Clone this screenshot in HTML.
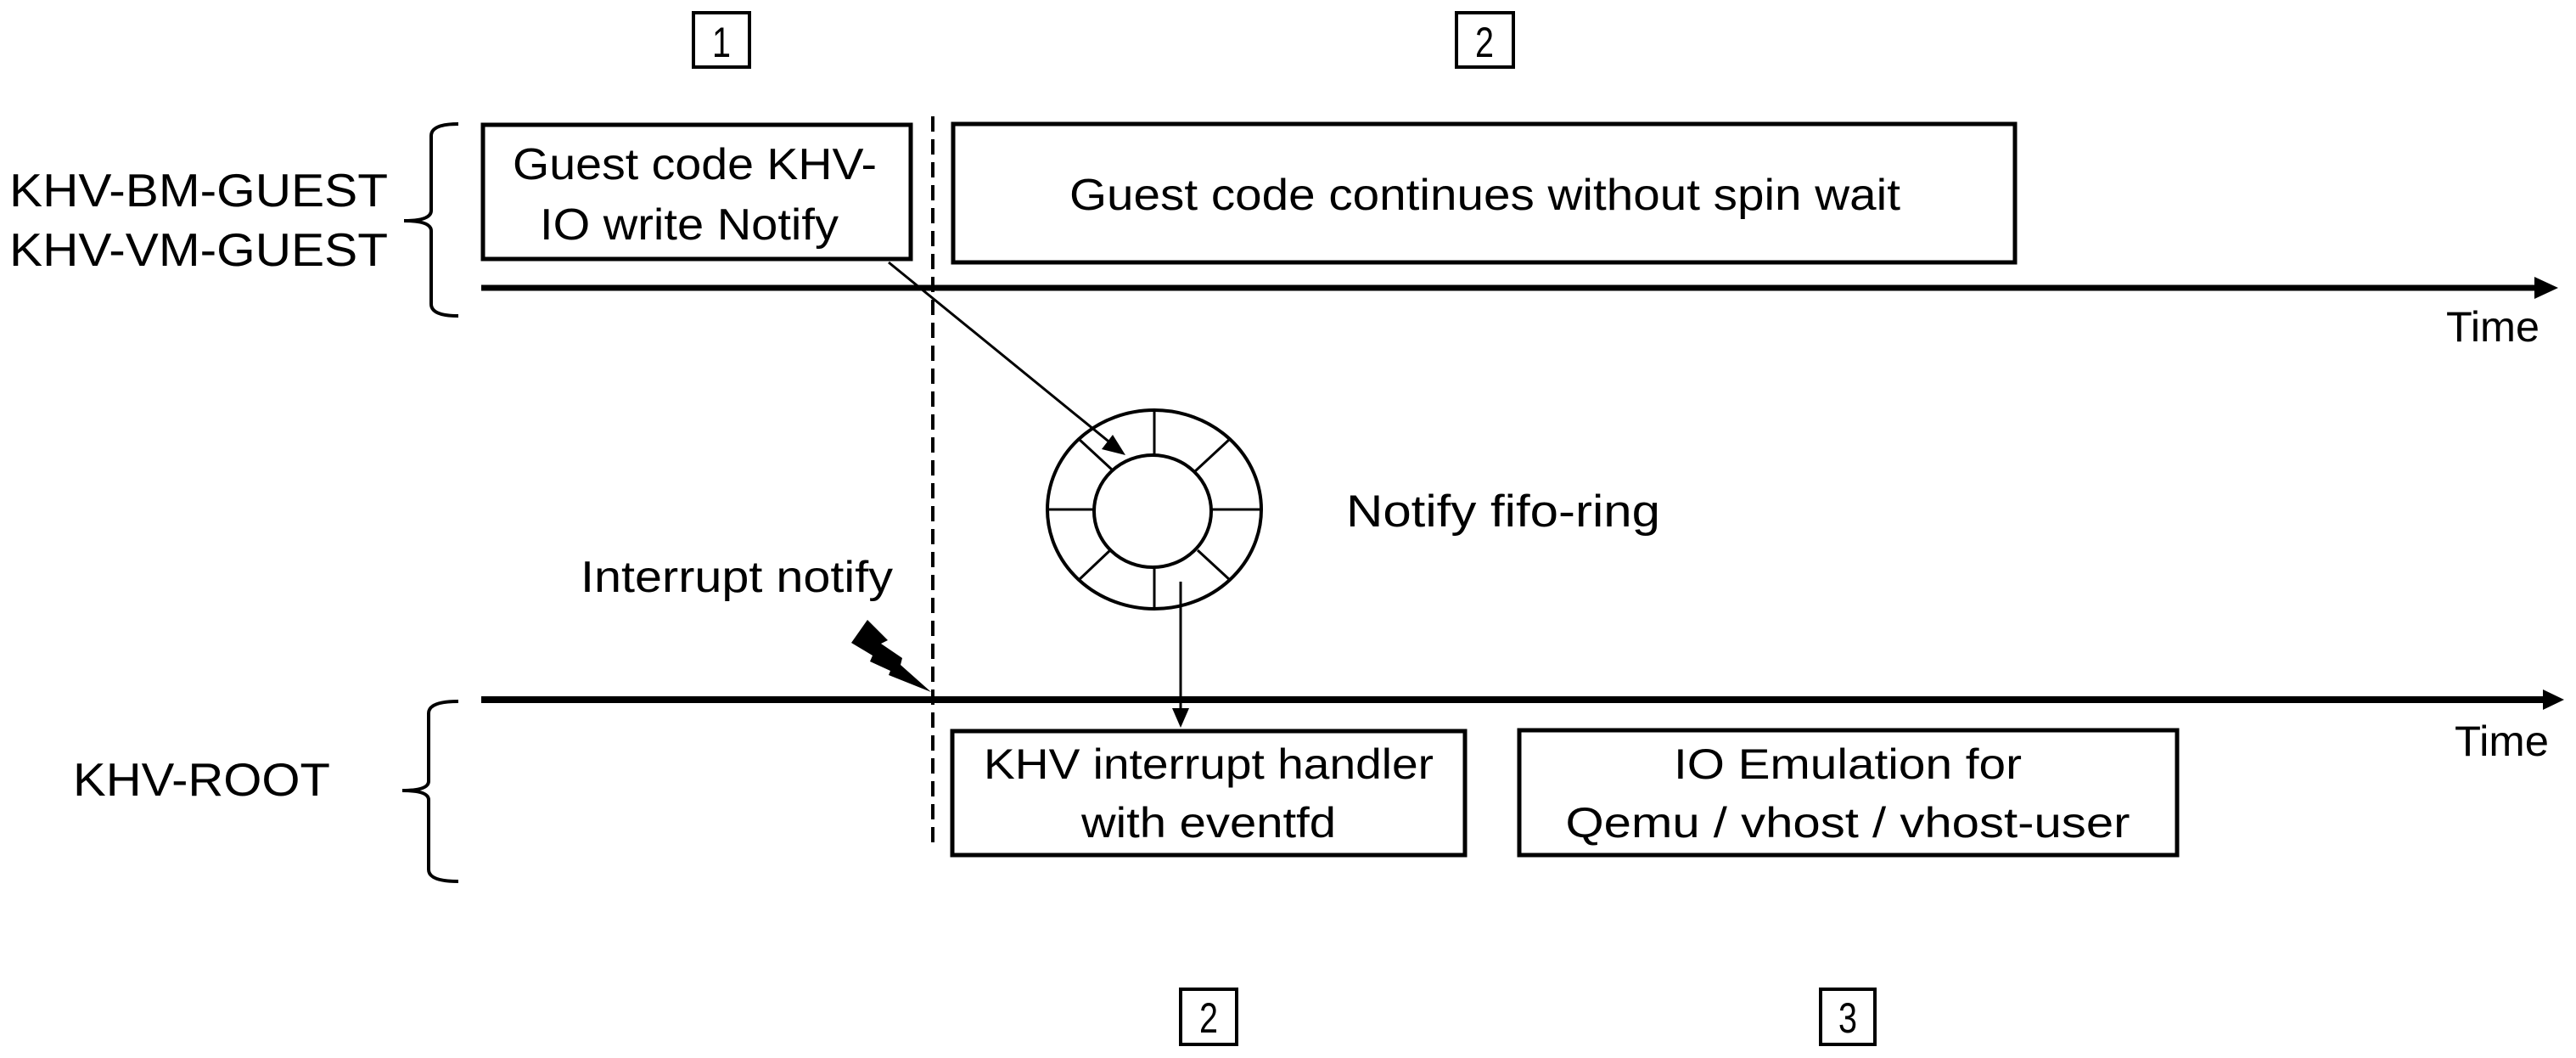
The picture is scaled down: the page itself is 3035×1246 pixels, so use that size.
<!DOCTYPE html>
<html><head><meta charset="utf-8"><style>
html,body{margin:0;padding:0;background:#fff;}
svg{display:block;}
text{font-family:"Liberation Sans",Arial,sans-serif;fill:#000;}
</style></head><body>
<svg width="3035" height="1246" viewBox="0 0 3035 1246" xmlns="http://www.w3.org/2000/svg">
<rect x="817" y="15" width="66" height="64" fill="none" stroke="#000" stroke-width="4"/>
<text x="850" y="67" font-size="50" text-anchor="middle" textLength="22" lengthAdjust="spacingAndGlyphs">1</text>
<rect x="1716" y="15" width="67" height="64" fill="none" stroke="#000" stroke-width="4"/>
<text x="1749" y="67" font-size="50" text-anchor="middle" textLength="22" lengthAdjust="spacingAndGlyphs">2</text>
<rect x="1391" y="1165" width="66" height="65" fill="none" stroke="#000" stroke-width="4"/>
<text x="1424" y="1216" font-size="50" text-anchor="middle" textLength="22" lengthAdjust="spacingAndGlyphs">2</text>
<rect x="2145" y="1165" width="64" height="65" fill="none" stroke="#000" stroke-width="4"/>
<text x="2177" y="1216" font-size="50" text-anchor="middle" textLength="22" lengthAdjust="spacingAndGlyphs">3</text>

<text x="11" y="243" font-size="55" textLength="446" lengthAdjust="spacingAndGlyphs">KHV-BM-GUEST</text>
<text x="11" y="313" font-size="55" textLength="446" lengthAdjust="spacingAndGlyphs">KHV-VM-GUEST</text>
<text x="86" y="937" font-size="55" textLength="303" lengthAdjust="spacingAndGlyphs">KHV-ROOT</text>

<path d="M540,146 Q508,146 508,160 L508,248 Q508,260 476,260 Q508,260 508,272 L508,358 Q508,372 540,372" fill="none" stroke="#000" stroke-width="4"/>
<path d="M540,826 Q505,826 505,840 L505,920 Q505,931 474,931 Q505,931 505,942 L505,1024 Q505,1038 540,1038" fill="none" stroke="#000" stroke-width="4"/>

<rect x="569" y="147" width="504" height="158" fill="#fff" stroke="#000" stroke-width="5"/>
<text x="604" y="211" font-size="52" textLength="429" lengthAdjust="spacingAndGlyphs">Guest code KHV-</text>
<text x="636" y="282" font-size="52" textLength="352" lengthAdjust="spacingAndGlyphs">IO write Notify</text>
<rect x="1123" y="146" width="1251" height="163" fill="#fff" stroke="#000" stroke-width="5"/>
<text x="1260" y="247" font-size="52" textLength="979" lengthAdjust="spacingAndGlyphs">Guest code continues without spin wait</text>

<line x1="567" y1="339" x2="2990" y2="339" stroke="#000" stroke-width="7"/>
<polygon points="3014,339 2986,326 2986,352" fill="#000"/>
<text x="2882" y="402" font-size="50" textLength="110" lengthAdjust="spacingAndGlyphs">Time</text>
<line x1="567" y1="824" x2="2998" y2="824" stroke="#000" stroke-width="8"/>
<polygon points="3021,824 2996,812 2996,836" fill="#000"/>
<text x="2892" y="890" font-size="50" textLength="111" lengthAdjust="spacingAndGlyphs">Time</text>

<line x1="1099" y1="137" x2="1099" y2="994" stroke="#000" stroke-width="4" stroke-dasharray="18,9"/>

<ellipse cx="1360" cy="600" rx="126" ry="117" fill="#fff" stroke="#000" stroke-width="4"/>
<ellipse cx="1358" cy="602" rx="69" ry="66" fill="#fff" stroke="#000" stroke-width="4"/>
<g stroke="#000" stroke-width="3">
<line x1="1360" y1="483" x2="1360" y2="536"/>
<line x1="1360" y1="668" x2="1360" y2="717"/>
<line x1="1234" y1="600" x2="1289" y2="600"/>
<line x1="1427" y1="600" x2="1486" y2="600"/>
<line x1="1271" y1="517" x2="1310" y2="553"/>
<line x1="1449" y1="517" x2="1408" y2="555"/>
<line x1="1271" y1="683" x2="1308" y2="648"/>
<line x1="1449" y1="683" x2="1411" y2="648"/>
</g>
<text x="1586" y="620" font-size="53" textLength="370" lengthAdjust="spacingAndGlyphs">Notify fifo-ring</text>

<line x1="1047" y1="309" x2="1310" y2="523" stroke="#000" stroke-width="3"/>
<polygon points="1326,536 1298,529 1311,512" fill="#000"/>

<line x1="1391" y1="685" x2="1391" y2="840" stroke="#000" stroke-width="3"/>
<polygon points="1391,857 1381,834 1401,834" fill="#000"/>

<text x="684" y="697" font-size="52" textLength="368" lengthAdjust="spacingAndGlyphs">Interrupt notify</text>
<polygon points="1022,730 1046,754 1038,758 1063,775 1061,783 1097,815 1047,795 1049,790 1025,779 1028,772 1003,757" fill="#000"/>

<rect x="1122" y="861" width="604" height="146" fill="#fff" stroke="#000" stroke-width="5"/>
<text x="1424" y="917" font-size="50" text-anchor="middle" textLength="530" lengthAdjust="spacingAndGlyphs">KHV interrupt handler</text>
<text x="1424" y="986" font-size="50" text-anchor="middle" textLength="300" lengthAdjust="spacingAndGlyphs">with eventfd</text>
<rect x="1790" y="860" width="775" height="147" fill="#fff" stroke="#000" stroke-width="5"/>
<text x="2177" y="917" font-size="50" text-anchor="middle" textLength="410" lengthAdjust="spacingAndGlyphs">IO Emulation for</text>
<text x="2177" y="986" font-size="50" text-anchor="middle" textLength="665" lengthAdjust="spacingAndGlyphs">Qemu / vhost / vhost-user</text>
</svg>
</body></html>
